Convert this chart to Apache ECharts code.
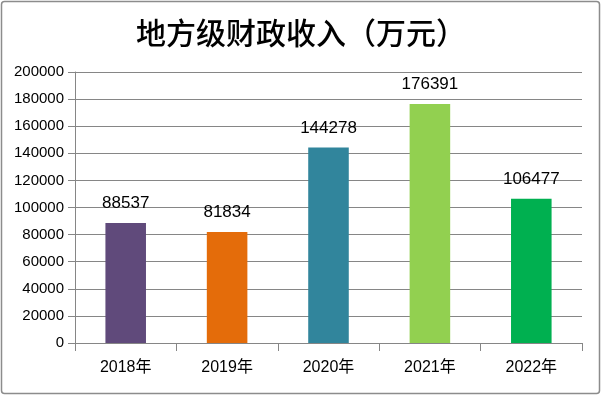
<!DOCTYPE html>
<html>
<head>
<meta charset="utf-8">
<script src="https://cdn.jsdelivr.net/npm/echarts@6/dist/echarts.min.js"></script>
<style>
  html, body { margin: 0; padding: 0; background: #fff; }
  #chart { width: 602px; height: 396px; }
</style>
</head>
<body>
<div id="chart"></div>
<script>
// 数据
const years = ['2018年', '2019年', '2020年', '2021年', '2022年'];
const revenue = [88537, 81834, 144278, 176391, 106477];
const barColors = ['#604A7B', '#E46C0A', '#31859C', '#92D050', '#00B050'];

const myChart = echarts.init(document.getElementById('chart'));

const option = {
    animation: false,
    backgroundColor: '#fff',
    title: {
        text: '地方级财政收入（万元）',
        left: 'center',
        top: 13,
        textStyle: {
            fontFamily: 'Noto Sans CJK SC',
            fontSize: 30,
            fontWeight: 500,
            color: '#000'
        }
    },
    // 外边框
    graphic: [{
        type: 'rect',
        shape: { x: 1.5, y: 1.5, width: 598, height: 392, r: 3 },
        style: { fill: 'none', stroke: '#8c8c8c', lineWidth: 1.5 },
        silent: true
    }],
    grid: {
        left: 75,
        right: 20,
        top: 72,
        bottom: 53
    },
    xAxis: {
        type: 'category',
        data: years,
        axisLine: { show: true, lineStyle: { color: '#868686', width: 1 } },
        axisTick: { show: true, alignWithLabel: false, length: 8, lineStyle: { color: '#868686' } },
        axisLabel: {
            color: '#000',
            fontSize: 16,
            fontFamily: 'Liberation Sans, Noto Sans CJK SC',
            margin: 17
        }
    },
    yAxis: {
        type: 'value',
        min: 0,
        max: 200000,
        interval: 20000,
        axisLine: { show: true, lineStyle: { color: '#868686', width: 1 } },
        axisTick: { show: true, length: 7, lineStyle: { color: '#868686' } },
        splitLine: { show: true, lineStyle: { color: '#868686', width: 1 } },
        axisLabel: {
            color: '#000',
            fontSize: 15,
            fontFamily: 'Liberation Sans',
            margin: 11,
            formatter: (v) => String(v)
        }
    },
    series: [{
        type: 'bar',
        barWidth: '40%',
        data: revenue.map((v, i) => ({ value: v, itemStyle: { color: barColors[i] } })),
        label: {
            show: true,
            position: 'top',
            distance: 11,
            color: '#000',
            fontSize: 17,
            fontFamily: 'Liberation Sans'
        }
    }]
};

myChart.setOption(option);
</script>
</body>
</html>
